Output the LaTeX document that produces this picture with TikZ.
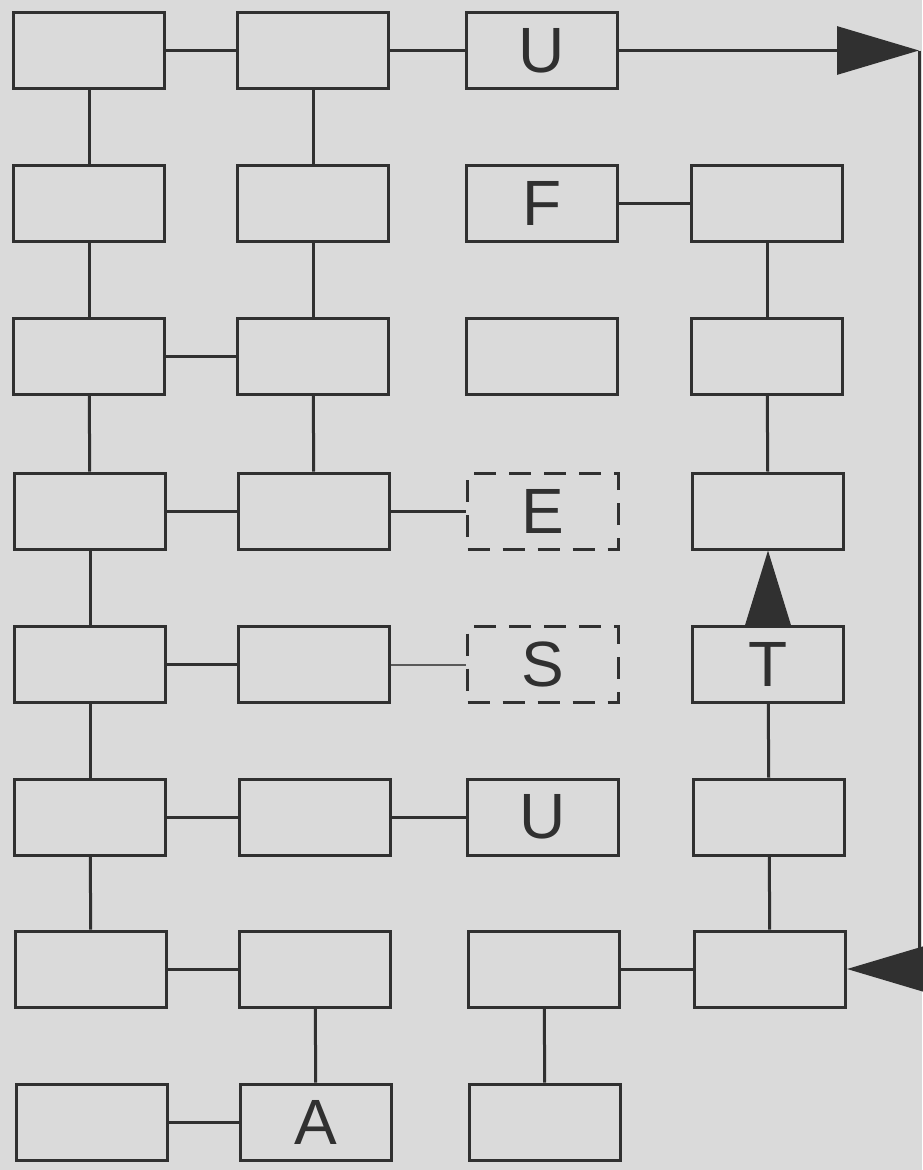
\documentclass[tikz,border=0pt]{standalone}
\usepackage{fontspec}
\setmainfont{Liberation Sans}
\usetikzlibrary{arrows.meta}
\definecolor{bg}{HTML}{DADADA}
\definecolor{ink}{HTML}{303030}
\begin{document}
\begin{tikzpicture}[x=1pt,y=-1pt,
  box/.style={draw=ink, line width=3pt, minimum width=151pt, minimum height=76pt,
    inner sep=0pt, font=\fontsize{64}{64}\selectfont, text=ink},
  dbox/.style={box, dash pattern=on 22pt off 13pt},
  link/.style={draw=ink, line width=3pt},
  thinlink/.style={draw=ink!80, line width=2pt},
  bigarrow/.style={link, -{Triangle[length=82pt, width=48pt]}},
  tarrow/.style={link, -{Triangle[length=76pt, width=46pt]}}]
\fill[bg] (0,0) rectangle (922,1170);
\useasboundingbox (0,0) rectangle (922,1170);
% row 1
\node[box] (n11) at (89,50.5) {};
\node[box] (n21) at (313,50.5) {};
\node[box] (n31) at (542,50.5) {U};
% row 2
\node[box] (n12) at (89,203.5) {};
\node[box] (n22) at (313,203.5) {};
\node[box] (n32) at (542,203.5) {F};
\node[box] (n42) at (767,203.5) {};
% row 3
\node[box] (n13) at (89,356.5) {};
\node[box] (n23) at (313,356.5) {};
\node[box] (n33) at (542,356.5) {};
\node[box] (n43) at (767,356.5) {};
% row 4
\node[box] (n14) at (90,511) {};
\node[box] (n24) at (314,511) {};
\node[dbox] (n34) at (543,511) {E};
\node[box] (n44) at (768,511) {};
% row 5
\node[box] (n15) at (90,664.5) {};
\node[box] (n25) at (314,664.5) {};
\node[dbox] (n35) at (543,664.5) {S};
\node[box] (n45) at (768,664.5) {T};
% row 6
\node[box] (n16) at (90,817) {};
\node[box] (n26) at (315,817) {};
\node[box] (n36) at (543,817) {U};
\node[box] (n46) at (769,817) {};
% row 7
\node[box] (n17) at (91,969) {};
\node[box] (n27) at (315,969) {};
\node[box] (n37) at (544,969) {};
\node[box] (n47) at (770,969) {};
% row 8
\node[box] (n18) at (92,1122) {};
\node[box] (n28) at (316,1122) {A};
\node[box] (n38) at (545,1122) {};
% horizontal links
\draw[link] (n11) -- (n21);
\draw[link] (n21) -- (n31);
\draw[link] (n32) -- (n42);
\draw[link] (n13) -- (n23);
\draw[link] (n14) -- (n24);
\draw[link] (n24) -- (n34);
\draw[link] (n15) -- (n25);
\draw[thinlink] (n25) -- (n35);
\draw[link] (n16) -- (n26);
\draw[link] (n26) -- (n36);
\draw[link] (n17) -- (n27);
\draw[link] (n37) -- (n47);
\draw[link] (n18) -- (n28);
% vertical links
\draw[link] (n11) -- (n12);
\draw[link] (n12) -- (n13);
\draw[link] (n13) -- (n14);
\draw[link] (n14) -- (n15);
\draw[link] (n15) -- (n16);
\draw[link] (n16) -- (n17);
\draw[link] (n21) -- (n22);
\draw[link] (n22) -- (n23);
\draw[link] (n23) -- (n24);
\draw[link] (n27) -- (n28);
\draw[link] (n37) -- (n38);
\draw[link] (n42) -- (n43);
\draw[link] (n43) -- (n44);
\draw[link] (n45) -- (n46);
\draw[link] (n46) -- (n47);
% arrows
\coordinate (tr) at (919,50.5);
\draw[bigarrow] (n31.east) -- (tr);
\draw[bigarrow] (tr) |- (n47.east);
\draw[tarrow] (n45.north) -- (n44.south);
\end{tikzpicture}
\end{document}
